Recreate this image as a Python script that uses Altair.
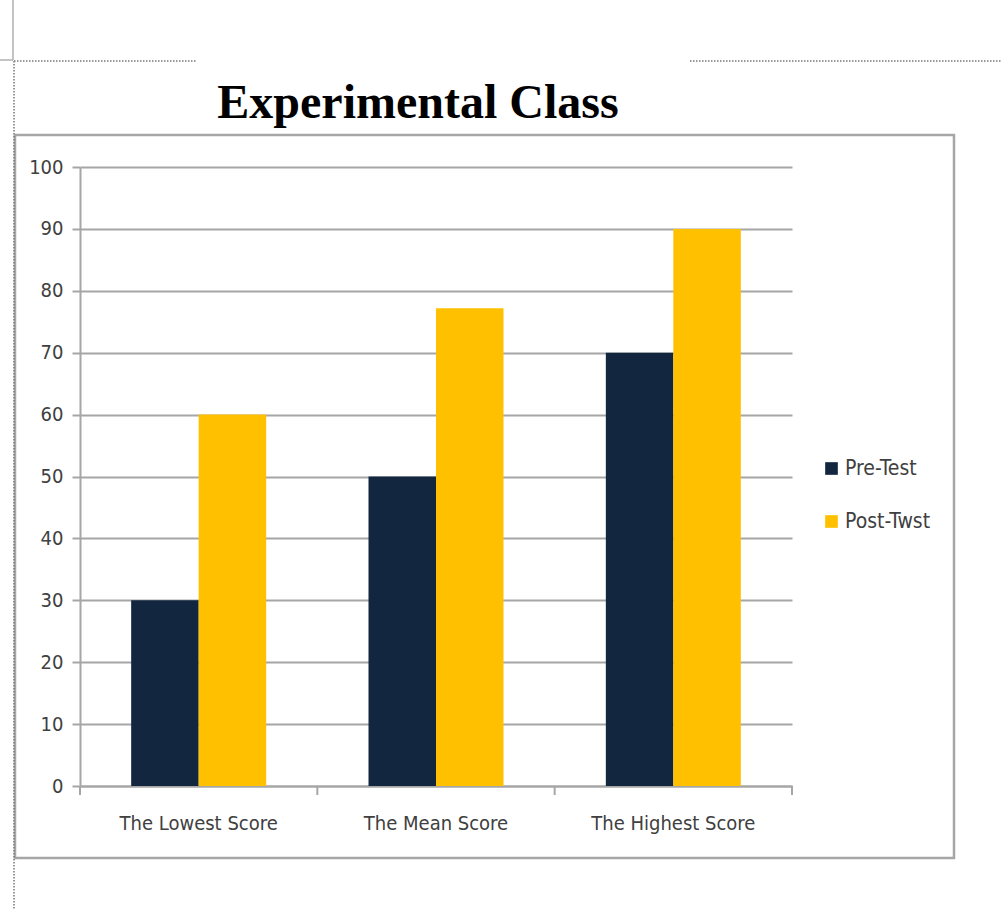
import altair as alt
import pandas as pd

categories = ["The Lowest Score", "The Mean Score", "The Highest Score"]
series = ["Pre-Test", "Post-Twst"]
pre_test = [30, 50, 70]
post_test = [60, 77.2, 90]
y_ticks = list(range(0, 101, 10))
colors = ["#13263F", "#FFC000"]

rows = []
for c, a, b in zip(categories, pre_test, post_test):
    rows.append({"cat": c, "series": series[0], "value": a})
    rows.append({"cat": c, "series": series[1], "value": b})
df = pd.DataFrame(rows)

W, H = 712, 619
FONT = "Liberation Sans Narrow, DejaVu Sans Condensed, sans-serif"
GRID = "#a6a6a6"

x_enc = alt.X("cat:N", sort=categories, title=None,
              scale=alt.Scale(paddingInner=0, paddingOuter=0),
              axis=alt.Axis(labelAngle=0, ticks=False, domain=True, domainColor=GRID,
                            domainWidth=2, labelFont=FONT, labelFontSize=20,
                            labelColor="#404040", labelPadding=27))

bars = alt.Chart(df).mark_bar(strokeWidth=0).encode(
    x=x_enc,
    xOffset=alt.XOffset("series:N", sort=series,
                        scale=alt.Scale(paddingInner=0, paddingOuter=0.758)),
    y=alt.Y("value:Q", title=None,
            scale=alt.Scale(domain=[0, 100], nice=False),
            axis=alt.Axis(values=y_ticks, grid=True, gridColor=GRID, gridWidth=2,
                          domainColor=GRID, domainWidth=2, tickColor=GRID, tickWidth=2,
                          tickSize=8, labelFont=FONT, labelFontSize=20,
                          labelColor="#404040", labelPadding=9)),
    color=alt.Color("series:N", sort=series,
                    scale=alt.Scale(domain=series, range=colors),
                    legend=alt.Legend(title=None, orient="none", legendX=741, legendY=291,
                                      symbolType="square", symbolSize=160,
                                      symbolStrokeWidth=0, labelFont=FONT,
                                      labelFontSize=21, labelColor="#404040",
                                      rowPadding=31, labelOffset=3)),
)

tick_df = pd.DataFrame({"cat": categories})
xticks0 = alt.Chart(tick_df).mark_rule(color=GRID, strokeWidth=2).encode(
    x=alt.X("cat:N", sort=categories, bandPosition=0),
    y=alt.value(H), y2=alt.value(H + 9))
xticks1 = alt.Chart(pd.DataFrame({"cat": [categories[-1]]})).mark_rule(color=GRID, strokeWidth=2).encode(
    x=alt.X("cat:N", sort=categories, bandPosition=1),
    y=alt.value(H), y2=alt.value(H + 9))

deco = pd.DataFrame({"k": [0]})
box = alt.Chart(deco).mark_rect(fill=None, stroke="#a6a6a6", strokeWidth=2.5).encode(
    x=alt.value(-65), x2=alt.value(874), y=alt.value(-32), y2=alt.value(691))

dot_style = dict(color="#777777", strokeWidth=1.5, strokeDash=[1.5, 1.5])
dot_top1 = alt.Chart(deco).mark_rule(**dot_style).encode(
    x=alt.value(-66), x2=alt.value(117), y=alt.value(-106))
dot_top2 = alt.Chart(deco).mark_rule(**dot_style).encode(
    x=alt.value(610), x2=alt.value(922), y=alt.value(-106))
dot_left = alt.Chart(deco).mark_rule(**dot_style).encode(
    x=alt.value(-66), y=alt.value(-106), y2=alt.value(742))
solid_v = alt.Chart(deco).mark_rule(color="#b0b0b0", strokeWidth=1.5).encode(
    x=alt.value(-67), y=alt.value(-167), y2=alt.value(-107))
solid_h = alt.Chart(deco).mark_rule(color="#b0b0b0", strokeWidth=1.5).encode(
    x=alt.value(-80), x2=alt.value(-67), y=alt.value(-107))

title = alt.Chart(deco).mark_text(
    text="Experimental Class", font="Liberation Serif, Times New Roman, serif",
    fontSize=48, fontWeight="bold", color="#000000", align="center", baseline="alphabetic"
).encode(x=alt.value(338), y=alt.value(-49))

chart = alt.layer(
    box, dot_top1, dot_top2, dot_left, solid_v, solid_h, bars, xticks0, xticks1, title
).properties(
    width=W, height=H,
    padding={"left": 80, "top": 167, "right": 210, "bottom": 123},
    autosize=alt.AutoSizeParams(type="none"),
    background="white",
).configure_view(stroke=None)

chart.save("out.html", embed_options={"renderer": "svg", "actions": False})
